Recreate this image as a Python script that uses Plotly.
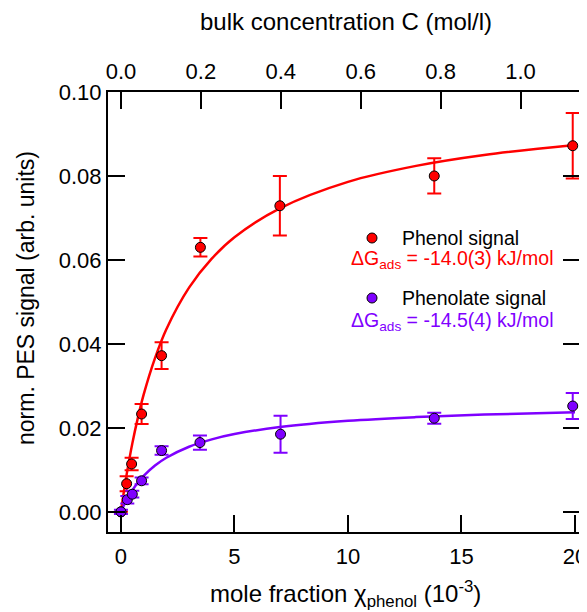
import plotly.graph_objects as go

# ---- data ----
phenol_x = [0, 0.25, 0.47, 0.91, 1.79, 3.5, 7.0, 13.8, 19.9]
phenol_y = [0, 0.0067, 0.0114, 0.0233, 0.0372, 0.0630, 0.0729, 0.0800, 0.0872]
phenol_err = [0, 0.0018, 0.0015, 0.0024, 0.0032, 0.0022, 0.0071, 0.0042, 0.0078]

phenolate_x = [0, 0.28, 0.5, 0.91, 1.79, 3.48, 7.03, 13.8, 19.9]
phenolate_y = [0, 0.0029, 0.0042, 0.0074, 0.0146, 0.0165, 0.0185, 0.0223, 0.0252]
phenolate_err = [0.0005, 0.0009, 0.0008, 0.0008, 0.0010, 0.0017, 0.0044, 0.0013, 0.0031]

# fit curves
fit_x = [0, 0.1, 0.25, 0.5, 0.75, 1, 1.5, 2, 3, 4, 5, 7, 10, 13, 16, 20]
fit_phenol = [0, 0.00374, 0.00886, 0.01625, 0.0225, 0.0279, 0.0366, 0.0435, 0.0534,
              0.0603, 0.0654, 0.0723, 0.0786, 0.0824, 0.0850, 0.0874]
fit_phenolate = [0, 0.00121, 0.00283, 0.00511, 0.00698, 0.00855, 0.01102, 0.01288, 0.01551,
                 0.01726, 0.01852, 0.0202, 0.02168, 0.02257, 0.02316, 0.0237]

x_ticks = [0, 5, 10, 15, 20]
top_ticks = [0, 0.2, 0.4, 0.6, 0.8, 1.0]
top_ticktext = ["0.0", "0.2", "0.4", "0.6", "0.8", "1.0"]
y_ticks = [0, 0.02, 0.04, 0.06, 0.08, 0.10]
y_ticktext = ["0.00", "0.02", "0.04", "0.06", "0.08", "0.10"]

phenol_label = "Phenol signal"
phenolate_label = "Phenolate signal"
phenol_dg = "ΔG<sub>ads</sub> = -14.0(3) kJ/mol"
phenolate_dg = "ΔG<sub>ads</sub> = -14.5(4) kJ/mol"
x_title = "mole fraction χ<sub>phenol</sub> (10<sup>-3</sup>)"
top_title = "bulk concentration C (mol/l)"
y_title = "norm. PES signal (arb. units)"

RED = "#FF0000"
PURPLE = "#7F00FF"
FONT = "Liberation Sans, Arial, sans-serif"

X_RANGE = [-0.57, 20.22]
C_FACTOR = 17.6  # mole fraction (1e-3) per mol/l
Y_RANGE = [-0.0048, 0.1]

fig = go.Figure()

fig.add_trace(go.Scatter(x=fit_x, y=fit_phenol, mode="lines", line=dict(color=RED, width=2.5, shape="spline"),
                         showlegend=False, hoverinfo="skip"))
fig.add_trace(go.Scatter(x=fit_x, y=fit_phenolate, mode="lines", line=dict(color=PURPLE, width=2.5, shape="spline"),
                         showlegend=False, hoverinfo="skip"))

fig.add_trace(go.Scatter(x=phenol_x, y=phenol_y, mode="markers",
                         marker=dict(color=RED, size=10, line=dict(color="black", width=1)),
                         error_y=dict(type="data", array=phenol_err, color=RED, thickness=2, width=7),
                         showlegend=False))
fig.add_trace(go.Scatter(x=phenolate_x, y=phenolate_y, mode="markers",
                         marker=dict(color=PURPLE, size=10, line=dict(color="black", width=1)),
                         error_y=dict(type="data", array=phenolate_err, color=PURPLE, thickness=2, width=7),
                         showlegend=False))

# invisible trace to activate top axis
fig.add_trace(go.Scatter(x=[0], y=[0], xaxis="x2", mode="markers", marker=dict(opacity=0),
                         showlegend=False, hoverinfo="skip"))

# page has an 8px body margin: figure drawn at (8, 8)
OFF = 8
W, H = 587 - OFF, 612 - OFF
PL, PR, PT, PB = 108, 580, 92, 532  # plot area in page pixels
L, T = PL - OFF, PT - OFF
R, B = W - (PR - OFF), H - (PB - OFF)
pw, ph = PR - PL, PB - PT


def px(x):
    return (x - PL) / pw


def py(y):
    return (PB - y) / ph


axis_common = dict(showgrid=False, zeroline=False, showline=True, linecolor="black", linewidth=2,
                   ticks="inside", ticklen=17, tickwidth=2, tickcolor="black", automargin=False,
                   ticklabeloverflow="allow",
                   tickfont=dict(family=FONT, size=22, color="black"))

fig.update_layout(
    width=W, height=H,
    margin=dict(l=L, r=R, t=T, b=B, pad=0),
    plot_bgcolor="white", paper_bgcolor="white",
    font=dict(family=FONT, size=20, color="black"),
    xaxis=dict(range=X_RANGE, tickvals=x_ticks, ticklabelstandoff=4, **axis_common),
    xaxis2=dict(range=[X_RANGE[0] / C_FACTOR, X_RANGE[1] / C_FACTOR], overlaying="x", side="top",
                tickvals=top_ticks, ticktext=top_ticktext, ticklabelstandoff=2, **axis_common),
    yaxis=dict(range=Y_RANGE, tickvals=y_ticks, ticktext=y_ticktext, mirror="ticks", **axis_common),
)

# axis titles
fig.add_annotation(xref="paper", yref="paper", x=px(346), y=py(22), text=top_title, showarrow=False,
                   xanchor="center", yanchor="middle", font=dict(family=FONT, size=24, color="black"))
fig.add_annotation(xref="paper", yref="paper", x=px(345), y=py(594), text=x_title, showarrow=False,
                   xanchor="center", yanchor="middle", font=dict(family=FONT, size=24, color="black"))
fig.add_annotation(xref="paper", yref="paper", x=px(26), y=py(298), text=y_title, showarrow=False,
                   textangle=-90, xanchor="center", yanchor="middle",
                   font=dict(family=FONT, size=23, color="black"))

# custom legend
for (mx, my, col) in [(372, 238, RED), (372, 298, PURPLE)]:
    fig.add_shape(type="circle", xref="paper", yref="paper", xsizemode="pixel", ysizemode="pixel",
                  xanchor=px(mx), yanchor=py(my), x0=-5, x1=5, y0=-5, y1=5,
                  fillcolor=col, line=dict(color="black", width=1))

for (tx, ty, txt, col) in [(400, 238, phenol_label, "black"), (349, 259, phenol_dg, RED),
                           (400, 298, phenolate_label, "black"), (349, 321, phenolate_dg, PURPLE)]:
    fig.add_annotation(xref="paper", yref="paper", x=px(tx), y=py(ty), text=txt, showarrow=False,
                       xanchor="left", yanchor="middle", font=dict(family=FONT, size=19.5, color=col))

fig.write_html("out.html")
